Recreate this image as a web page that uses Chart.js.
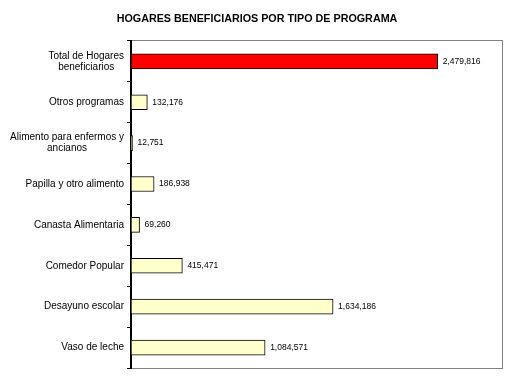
<!DOCTYPE html>
<html>
<head>
<meta charset="utf-8">
<script src="https://cdn.jsdelivr.net/npm/chart.js@4/dist/chart.umd.min.js"></script>
<style>
  html, body { margin: 0; padding: 0; background: #fff; }
  #wrap { width: 508px; height: 377px; }
</style>
</head>
<body>
<div id="wrap"><canvas id="chart"></canvas></div>
<script>
// Categories, top to bottom
const categories = [
  ["Total de Hogares", "beneficiarios"],
  "Otros programas",
  ["Alimento para enfermos y", "ancianos"],
  "Papilla y otro alimento",
  "Canasta Alimentaria",
  "Comedor Popular",
  "Desayuno escolar",
  "Vaso de leche"
];
// Households per program
const hogares = [2479816, 132176, 12751, 186938, 69260, 415471, 1634186, 1084571];
const barColors = ["#FF0000", "#FFFFCC", "#FFFFCC", "#FFFFCC", "#FFFFCC", "#FFFFCC", "#FFFFCC", "#FFFFCC"];
const xMax = 3000000;

const FONT = '"Liberation Sans", Arial, sans-serif';

// axis that only shows a gray frame line
function frameAxis(extra) {
  return Object.assign({
    display: true,
    grid: { display: false, drawTicks: false },
    ticks: { display: false },
    border: { display: true, color: '#808080', width: 1 }
  }, extra);
}

// category labels: block right-aligned to the axis, lines centred in the block
const labelPlugin = {
  id: 'catLabels',
  afterDraw(chart) {
    const ctx = chart.ctx;
    const y = chart.scales.y;
    const right = chart.chartArea.left - 7;
    const lh = 11;
    ctx.save();
    ctx.fillStyle = '#000';
    ctx.font = '10px ' + FONT;
    ctx.textAlign = 'center';
    ctx.textBaseline = 'middle';
    categories.forEach((lab, i) => {
      const lines = Array.isArray(lab) ? lab : [lab];
      const w = Math.max(...lines.map(l => ctx.measureText(l).width));
      const cx = right - w / 2;
      const cy = y.getPixelForValue(i);
      lines.forEach((l, j) => {
        ctx.fillText(l, cx, cy + (j - (lines.length - 1) / 2) * lh);
      });
    });
    ctx.restore();
  }
};

// value labels at the end of each bar
const valuePlugin = {
  id: 'values',
  afterDatasetsDraw(chart) {
    const ctx = chart.ctx;
    const meta = chart.getDatasetMeta(0);
    ctx.save();
    ctx.fillStyle = '#000';
    ctx.font = '8.5px ' + FONT;
    ctx.textBaseline = 'middle';
    meta.data.forEach((bar, i) => {
      ctx.fillText(hogares[i].toLocaleString('en-US'), bar.x + 5, bar.y);
    });
    ctx.restore();
  }
};

const ctx = document.getElementById('chart').getContext('2d');
new Chart(ctx, {
  type: 'bar',
  data: {
    labels: categories,
    datasets: [{
      data: hogares,
      xAxisID: 'x',
      yAxisID: 'y',
      backgroundColor: barColors,
      borderColor: '#000',
      borderWidth: 1,
      borderSkipped: false,
      barThickness: 15
    }]
  },
  options: {
    indexAxis: 'y',
    responsive: true,
    maintainAspectRatio: false,
    animation: false,
    layout: { padding: { left: 12, right: 6, bottom: 9, top: 0 } },
    plugins: {
      legend: { display: false },
      tooltip: { enabled: false },
      title: {
        display: true,
        text: 'HOGARES BENEFICIARIOS POR TIPO DE PROGRAMA',
        color: '#000',
        font: { family: FONT, size: 10.75, weight: 'bold', lineHeight: 1.2 },
        padding: { top: 13, bottom: 15 }
      }
    },
    scales: {
      x: frameAxis({ type: 'linear', position: 'bottom', min: 0, max: xMax }),
      xTop: frameAxis({ type: 'linear', position: 'top', min: 0, max: xMax }),
      yRight: frameAxis({ type: 'category', position: 'right' }),
      y: {
        position: 'left',
        afterFit(scale) { scale.width = 119; },
        grid: {
          drawOnChartArea: false,
          drawTicks: true,
          tickLength: 4,
          color: '#000'
        },
        border: { color: '#000', width: 2 },
        ticks: { display: false }
      }
    }
  },
  plugins: [labelPlugin, valuePlugin]
});
</script>
</body>
</html>
